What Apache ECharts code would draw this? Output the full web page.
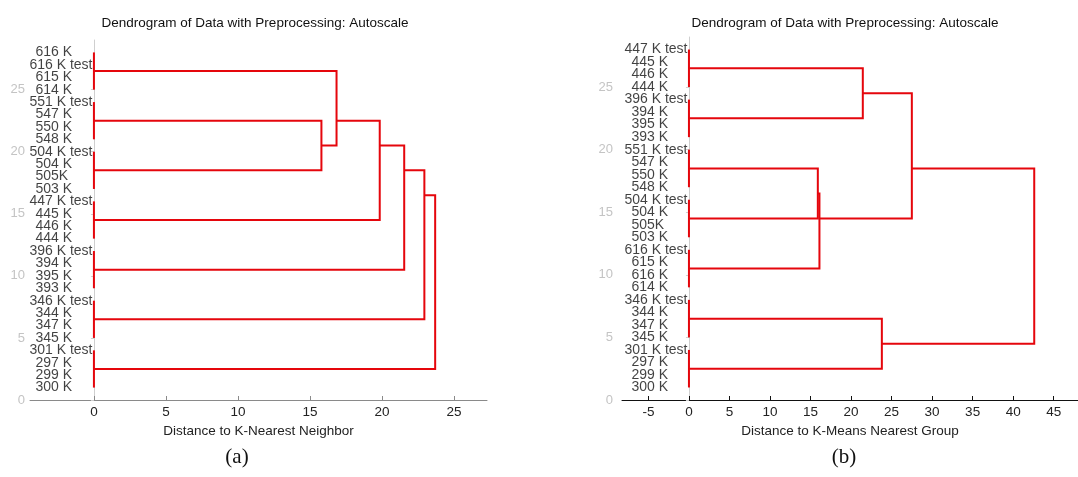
<!DOCTYPE html>
<html><head><meta charset="utf-8">
<script src="https://cdn.jsdelivr.net/npm/echarts@6/dist/echarts.min.js"></script>
<style>html,body{margin:0;padding:0;background:#fff}#c{width:1078px;height:477px}</style>
</head><body><div id="c"></div>
<script>
const titleText = 'Dendrogram of Data with Preprocessing: Autoscale';
const leftLeaves = ['616 K','616 K test','615 K','614 K','551 K test','547 K','550 K','548 K','504 K test','504 K','505K','503 K','447 K test','445 K','446 K','444 K','396 K test','394 K','395 K','393 K','346 K test','344 K','347 K','345 K','301 K test','297 K','299 K','300 K'];
const leftGroupSizes = [4,4,4,4,4,4,4];
// [childA, childB, distance]; indices 0..6 are leaf groups, 7.. are merge results
const leftMerges = [[1,2,15.8],[0,7,16.85],[8,3,19.85],[9,4,21.55],[10,5,22.95],[11,6,23.7]];
const rightLeaves = ['447 K test','445 K','446 K','444 K','396 K test','394 K','395 K','393 K','551 K test','547 K','550 K','548 K','504 K test','504 K','505K','503 K','616 K test','615 K','616 K','614 K','346 K test','344 K','347 K','345 K','301 K test','297 K','299 K','300 K'];
const rightGroupSizes = [4,4,4,4,4,4,4];
const rightMerges = [[0,1,21.45],[2,3,15.9],[8,4,16.1],[7,9,27.5],[5,6,23.8],[10,11,42.6]];
const leftXTicks = [0,5,10,15,20,25];
const rightXTicks = [-5,0,5,10,15,20,25,30,35,40,45];
const yTicks = [0,5,10,15,20,25];
const leftXName = 'Distance to K-Nearest Neighbor';
const rightXName = 'Distance to K-Means Nearest Group';
const panelTags = ['(a)','(b)'];

const FONT = '"Liberation Sans", Arial, Helvetica, sans-serif';
const RED = '#e5060c';

function mean(a){ return a.reduce((s,v)=>s+v,0)/a.length; }
function build(leaves, sizes, merges){
  const n = leaves.length;
  const leafY = leaves.map((_, i) => n - i);
  const nodes = [], segs = [];
  let k = 0;
  sizes.forEach(s => {
    const ys = leafY.slice(k, k + s); k += s;
    nodes.push({h: 0, ys});
    segs.push([[0, ys[0]], [0, ys[ys.length - 1]]]);
  });
  merges.forEach(([a, b, h]) => {
    const A = nodes[a], B = nodes[b];
    const ya = mean(A.ys), yb = mean(B.ys);
    segs.push([[A.h, ya], [h, ya], [h, yb], [B.h, yb]]);
    nodes.push({h, ys: A.ys.concat(B.ys)});
  });
  return {leafY, segs};
}
const L = build(leftLeaves, leftGroupSizes, leftMerges);
const R = build(rightLeaves, rightGroupSizes, rightMerges);

function xAxis(idx, min, max, ticks, name, lineColor){
  return {
    type:'value', gridIndex: idx, min, max,
    axisLine:{show:true, onZero:false, lineStyle:{color: lineColor, width:1}},
    axisTick:{show:true, inside:true, length:4, customValues: ticks, lineStyle:{color: lineColor}},
    axisLabel:{show:true, customValues: ticks, color:'#222', fontSize:13.5, fontFamily: FONT, margin:5},
    splitLine:{show:false},
    name, nameLocation:'middle', nameGap:23,
    nameTextStyle:{color:'#222', fontSize:13.5, fontFamily: FONT}
  };
}
function yAxis(idx, margin){
  return {
    type:'value', gridIndex: idx, min:0, max:29,
    axisLine:{show:true, lineStyle:{color:'#cfcfcf', width:1}},
    axisTick:{show:true, length:3, customValues: yTicks, lineStyle:{color:'#cfcfcf'}},
    axisLabel:{show:true, customValues: yTicks, color:'#c4c4c4', fontSize:13, fontFamily: FONT, margin},
    splitLine:{show:false}
  };
}
function labelSeries(idx, leaves, leafY, testOff, otherOff){
  return {
    type:'scatter', xAxisIndex: idx, yAxisIndex: idx, symbolSize:1, silent:true, z:2,
    itemStyle:{color:'rgba(0,0,0,0)'},
    label:{show:true, position:'left', distance:0, align:'left', verticalAlign:'middle',
      formatter:'{b}', fontSize:14, color:'#111', fontFamily: FONT},
    data: leaves.map((name, i) => ({name, value:[0, leafY[i]],
      label:{offset:[name.indexOf('test') >= 0 ? testOff : otherOff, 0]}}))
  };
}
function lineSeries(idx, segs){
  return {
    type:'lines', coordinateSystem:'cartesian2d', xAxisIndex: idx, yAxisIndex: idx,
    polyline:true, silent:true, z:3,
    lineStyle:{color: RED, width:2, opacity:1},
    data: segs.map(c => ({coords: c}))
  };
}

const chart = echarts.init(document.getElementById('c'), null, {renderer:'canvas'});
chart.setOption({
  animation:false,
  backgroundColor:'#fff',
  grid:[
    {left:30, top:40, width:457, height:360},
    {left:622, top:37, width:456, height:363}
  ],
  xAxis:[
    xAxis(0, -4.44, 27.3, leftXTicks, leftXName, '#8a8a8a'),
    xAxis(1, -8.26, 48, rightXTicks, rightXName, '#111')
  ],
  yAxis:[ yAxis(0, 5), yAxis(1, 9) ],
  series:[
    lineSeries(0, L.segs),
    labelSeries(0, leftLeaves, L.leafY, -64, -58),
    lineSeries(1, R.segs),
    labelSeries(1, rightLeaves, R.leafY, -64, -57)
  ],
  graphic:[
    {type:'text', x:255, y:23, style:{text:titleText, align:'center', verticalAlign:'middle', fill:'#111', font:'13.5px '+FONT}},
    {type:'text', x:845, y:23, style:{text:titleText, align:'center', verticalAlign:'middle', fill:'#111', font:'13.5px '+FONT}},
    {type:'text', x:237, y:457, style:{text:panelTags[0], align:'center', verticalAlign:'middle', fill:'#111', font:'21px "Liberation Serif", "Times New Roman", serif'}},
    {type:'text', x:844, y:457, style:{text:panelTags[1], align:'center', verticalAlign:'middle', fill:'#111', font:'21px "Liberation Serif", "Times New Roman", serif'}}
  ]
});
</script></body></html>
